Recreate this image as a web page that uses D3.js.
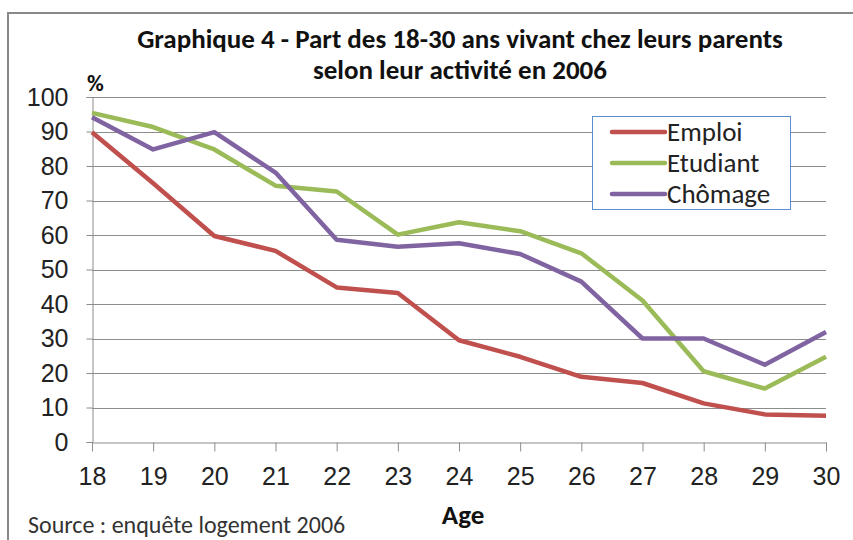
<!DOCTYPE html>
<html>
<head>
<meta charset="utf-8">
<script src="https://cdn.jsdelivr.net/npm/d3@7"></script>
<style>
  body { margin: 0; background: #fff; }
  svg { display: block; font-family: Calibri, Carlito, "Open Sans", sans-serif; }
</style>
</head>
<body>
<svg class="js-chart"></svg>
<script>
var ages = [18, 19, 20, 21, 22, 23, 24, 25, 26, 27, 28, 29, 30];
var emploi = [89.8, 75, 59.7, 55.4, 44.8, 43.2, 29.5, 24.7, 18.9, 17.1, 11.2, 8.0, 7.6];
var etudiant = [95.4, 91.3, 84.8, 74.3, 72.6, 60.1, 63.7, 61.1, 54.7, 41.0, 20.5, 15.5, 24.7];
var chomage = [94.1, 84.8, 89.8, 78.1, 58.6, 56.6, 57.6, 54.5, 46.5, 30.0, 30.0, 22.4, 31.9];
var seriesNames = ["Emploi", "Etudiant", "Chômage"];
var yTicks = [0, 10, 20, 30, 40, 50, 60, 70, 80, 90, 100];

var colors = ["#c0504d", "#9bbb59", "#8064a2"];
var series = [emploi, etudiant, chomage].map(function (vals, i) {
    return { name: seriesNames[i], color: colors[i], points: vals.map(function (v, j) { return { age: ages[j], value: v }; }) };
});

var width = 853, height = 540;
var margin = { top: 97, right: 27, bottom: 98, left: 92 };

var svg = d3.select(".js-chart").attr("width", width).attr("height", height);

// outer frame (left + top)
svg.append("path")
    .attr("d", "M8,540 V13 H853")
    .attr("fill", "none")
    .attr("stroke", "#888")
    .attr("stroke-width", 2);

var x = d3.scaleLinear().domain([18, 30]).range([margin.left, width - margin.right]);
var y = d3.scaleLinear().domain([0, 100]).range([height - margin.bottom, margin.top]);

// gridlines
svg.append("g").selectAll("line").data(yTicks.slice(1)).enter().append("line")
    .attr("x1", margin.left).attr("x2", width - margin.right)
    .attr("y1", function (d) { return Math.round(y(d)) + 0.5; })
    .attr("y2", function (d) { return Math.round(y(d)) + 0.5; })
    .attr("stroke", "#8c8c8c").attr("stroke-width", 1);

// y axis
var yAxis = svg.append("g")
    .attr("transform", "translate(" + (margin.left + 0.5) + ",0)")
    .call(d3.axisLeft(y).tickValues(yTicks).tickSize(6).tickPadding(18));
yAxis.select(".domain").attr("stroke", "#8c8c8c");
yAxis.selectAll(".tick line").attr("stroke", "#8c8c8c");
yAxis.selectAll("text").attr("font-size", 25).attr("fill", "#222").attr("font-family", "inherit");

// x axis
var xAxis = svg.append("g")
    .attr("transform", "translate(0," + (Math.round(y(0)) + 0.5) + ")")
    .call(d3.axisBottom(x).tickValues(ages).tickFormat(d3.format("d")).tickSize(9).tickPadding(16).tickSizeOuter(0));
xAxis.select(".domain").attr("stroke", "#8c8c8c");
xAxis.selectAll(".tick line").attr("stroke", "#8c8c8c");
xAxis.selectAll("text").attr("font-size", 25).attr("fill", "#222").attr("font-family", "inherit");

// lines
var line = d3.line().x(function (d) { return x(d.age); }).y(function (d) { return y(d.value); });
svg.append("g").selectAll("path").data(series).enter().append("path")
    .attr("d", function (d) { return line(d.points); })
    .attr("fill", "none")
    .attr("stroke", function (d) { return d.color; })
    .attr("stroke-width", 4.5)
    .attr("stroke-linejoin", "round");

// title
var title = svg.append("text")
    .attr("text-anchor", "middle")
    .attr("font-weight", "bold")
    .attr("font-size", 27)
    .attr("fill", "#111");
title.append("tspan").attr("x", 460).attr("y", 48).text("Graphique 4 - Part des 18-30 ans vivant chez leurs parents");
title.append("tspan").attr("x", 460).attr("y", 79).text("selon leur activité en 2006");

svg.append("text").attr("x", 87).attr("y", 91)
    .attr("font-weight", "bold").attr("font-size", 23).attr("fill", "#111").text("%");

svg.append("text").attr("x", 463).attr("y", 524).attr("text-anchor", "middle")
    .attr("font-weight", "bold").attr("font-size", 27).attr("fill", "#111").text("Age");

svg.append("text").attr("x", 28).attr("y", 533)
    .attr("font-size", 24).attr("fill", "#333").text("Source : enquête logement 2006");

// legend
var legend = svg.append("g").attr("transform", "translate(592,116)");
legend.append("rect").attr("x", 0.5).attr("y", 0.5).attr("width", 198).attr("height", 93)
    .attr("fill", "#fff").attr("stroke", "#5a8ed0").attr("stroke-width", 1);
var items = legend.selectAll(".item").data(series).enter().append("g")
    .attr("transform", function (d, i) { return "translate(0," + (16 + i * 31) + ")"; });
items.append("line").attr("x1", 20).attr("x2", 73).attr("y1", 0).attr("y2", 0)
    .attr("stroke", function (d) { return d.color; }).attr("stroke-width", 4.5).attr("stroke-linecap", "round");
items.append("text").attr("x", 75).attr("y", 9).attr("font-size", 27).attr("fill", "#222")
    .text(function (d) { return d.name; });
</script>
</body>
</html>
